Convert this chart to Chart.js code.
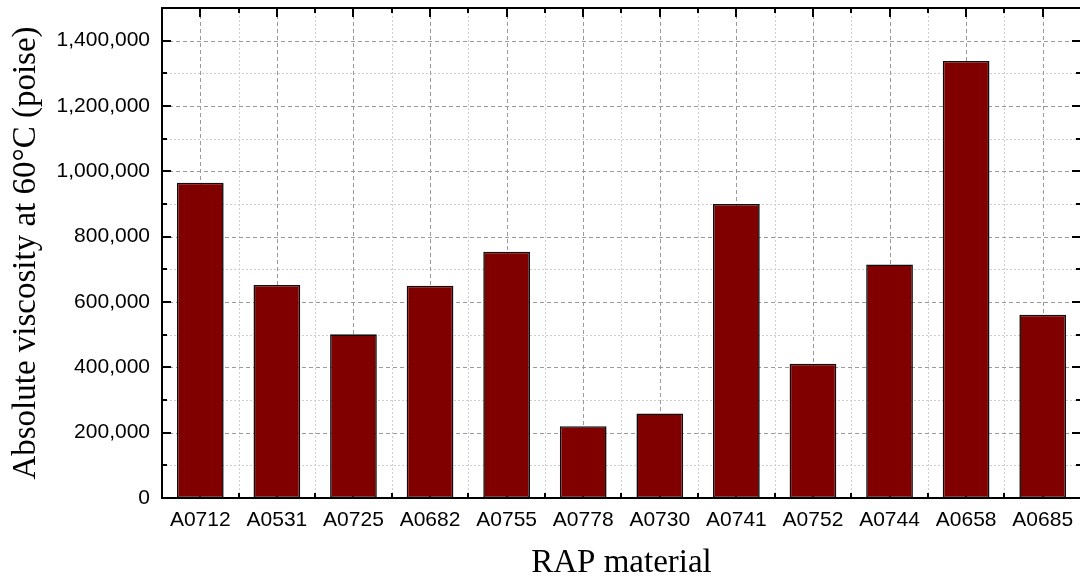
<!DOCTYPE html>
<html>
<head>
<meta charset="utf-8">
<script src="https://cdn.jsdelivr.net/npm/chart.js@4/dist/chart.umd.min.js"></script>
<style>
  html, body { margin: 0; padding: 0; background: #fff; overflow: hidden; }
  #wrap { width: 1080px; height: 580px; overflow: hidden; position: relative; }
  canvas { position: absolute; left: 0; top: 0; }
</style>
</head>
<body>
<div id="wrap"><canvas id="c" width="1090" height="580"></canvas></div>
<script>
// RAP binder samples and their absolute viscosity at 60 °C (poise)
const categories = ['A0712', 'A0531', 'A0725', 'A0682', 'A0755', 'A0778',
                    'A0730', 'A0741', 'A0752', 'A0744', 'A0658', 'A0685'];
const viscosity = [965000, 652000, 501000, 650000, 754000, 220000,
                   259000, 900000, 411000, 715000, 1338000, 561000];
const yTickValues = [0, 200000, 400000, 600000, 800000, 1000000, 1200000, 1400000];
const yMinorValues = [100000, 300000, 500000, 700000, 900000, 1100000, 1300000];
const yMax = 1500000;

const BAR_FILL = '#800000';
const FRAME = '#000000';

// Grid lines, inward tick marks and the box frame, all placed through the chart's scales
const framePlugin = {
  id: 'frame',
  beforeDatasetsDraw(chart) {
    const { ctx, chartArea: a, scales: { x, y } } = chart;
    const centers = categories.map((_, i) => x.getPixelForValue(i));
    const half = categories.length > 1 ? (centers[1] - centers[0]) / 2 : 0;
    const bounds = centers.slice(0, -1).map(c => c + half);

    ctx.save();
    ctx.beginPath();
    ctx.rect(a.left, a.top, a.right - a.left, a.bottom - a.top);
    ctx.clip();

    // minor grid: dotted, light
    ctx.lineWidth = 1;
    ctx.strokeStyle = '#cfcfcf';
    ctx.setLineDash([2, 2]);
    ctx.beginPath();
    yMinorValues.forEach(v => {
      const py = Math.round(y.getPixelForValue(v)) + 0.5;
      ctx.moveTo(a.left, py); ctx.lineTo(a.right, py);
    });
    bounds.forEach(b => {
      const px = Math.round(b) + 0.5;
      ctx.moveTo(px, a.top); ctx.lineTo(px, a.bottom);
    });
    ctx.stroke();

    // major grid: dashed, mid grey
    ctx.strokeStyle = '#9a9a9a';
    ctx.setLineDash([4, 3]);
    ctx.beginPath();
    yTickValues.slice(1).forEach(v => {
      const py = Math.round(y.getPixelForValue(v)) + 0.5;
      ctx.moveTo(a.left, py); ctx.lineTo(a.right, py);
    });
    centers.forEach(c => {
      const px = Math.round(c) + 0.5;
      ctx.moveTo(px, a.top); ctx.lineTo(px, a.bottom);
    });
    ctx.stroke();
    ctx.restore();

    // inward tick marks on all four sides
    ctx.save();
    ctx.setLineDash([]);
    ctx.strokeStyle = FRAME;
    ctx.lineWidth = 2;
    ctx.beginPath();
    const MAJ = 9, MIN = 5;
    yTickValues.forEach(v => {
      const py = Math.round(y.getPixelForValue(v));
      ctx.moveTo(a.left, py); ctx.lineTo(a.left + MAJ, py);
      ctx.moveTo(a.right, py); ctx.lineTo(a.right - MAJ, py);
    });
    yMinorValues.forEach(v => {
      const py = Math.round(y.getPixelForValue(v));
      ctx.moveTo(a.left, py); ctx.lineTo(a.left + MIN, py);
      ctx.moveTo(a.right, py); ctx.lineTo(a.right - MIN, py);
    });
    centers.forEach(c => {
      const px = Math.round(c);
      ctx.moveTo(px, a.top); ctx.lineTo(px, a.top + MAJ);
      ctx.moveTo(px, a.bottom); ctx.lineTo(px, a.bottom - MAJ);
    });
    bounds.forEach(b => {
      const px = Math.round(b);
      ctx.moveTo(px, a.top); ctx.lineTo(px, a.top + MIN);
      ctx.moveTo(px, a.bottom); ctx.lineTo(px, a.bottom - MIN);
    });
    ctx.stroke();
    ctx.restore();
  },
  afterDatasetsDraw(chart) {
    const { ctx, chartArea: a } = chart;
    ctx.save();
    ctx.strokeStyle = FRAME;
    ctx.lineWidth = 2;
    ctx.strokeRect(a.left, a.top, a.right - a.left, a.bottom - a.top);
    ctx.restore();
  }
};

new Chart(document.getElementById('c'), {
  type: 'bar',
  data: {
    labels: categories,
    datasets: [{
      data: viscosity,
      backgroundColor: BAR_FILL,
      borderColor: '#0d0d0d',
      borderWidth: 1.6,
      borderSkipped: false,
      barPercentage: 0.61,
      categoryPercentage: 1.0
    }]
  },
  options: {
    responsive: false,
    animation: false,
    devicePixelRatio: 1,
    layout: { padding: { top: 8, right: 9, left: 0, bottom: 0 } },
    plugins: {
      legend: { display: false },
      tooltip: { enabled: false }
    },
    scales: {
      x: {
        offset: true,
        grid: { display: false, drawTicks: false },
        border: { display: false },
        ticks: {
          color: '#000',
          padding: 10,
          maxRotation: 0,
          autoSkip: false,
          font: { family: '"Liberation Sans", Arial, sans-serif', size: 21 }
        },
        title: {
          display: true,
          text: 'RAP material',
          color: '#000',
          padding: { top: 0, bottom: 0 },
          font: { family: '"Liberation Serif", "Times New Roman", serif', size: 33, lineHeight: 1 }
        },
        afterFit(scale) {
          scale.height = 82;
          scale.paddingLeft = 0;
          scale.paddingRight = 0;
        }
      },
      y: {
        min: 0,
        max: yMax,
        grid: { display: false, drawTicks: false },
        border: { display: false },
        afterBuildTicks(scale) {
          scale.ticks = yTickValues.map(v => ({ value: v }));
        },
        ticks: {
          color: '#000',
          padding: 12,
          font: { family: '"Liberation Sans", Arial, sans-serif', size: 21 },
          callback: v => Number(v).toLocaleString('en-US')
        },
        title: {
          display: true,
          text: 'Absolute viscosity at 60°C (poise)',
          color: '#000',
          padding: { top: 10, bottom: 0 },
          font: { family: '"Liberation Serif", "Times New Roman", serif', size: 33, lineHeight: 1 }
        },
        afterFit(scale) {
          scale.width = 162;
          scale.paddingTop = 0;
          scale.paddingBottom = 0;
        }
      }
    }
  },
  plugins: [framePlugin]
});
</script>
</body>
</html>
